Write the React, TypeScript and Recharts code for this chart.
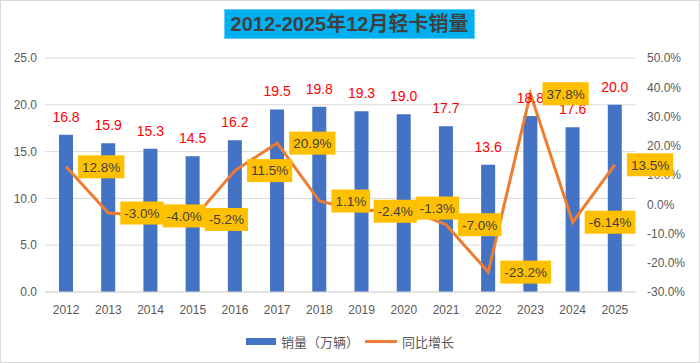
import React from 'react';
import { ComposedChart, Bar, Line, XAxis, YAxis, CartesianGrid, LabelList, Legend } from 'recharts';

const years = ['2012', '2013', '2014', '2015', '2016', '2017', '2018', '2019', '2020', '2021', '2022', '2023', '2024', '2025'];
const sales = [16.8, 15.9, 15.3, 14.5, 16.2, 19.5, 19.8, 19.3, 19.0, 17.7, 13.6, 18.8, 17.6, 20.0];
const growth = [12.8, -3.0, -4.0, -5.2, 11.5, 20.9, 1.1, -2.4, -1.3, -7.0, -23.2, 37.8, -6.14, 13.5];
const growthLabels = ['12.8%', '-3.0%', '-4.0%', '-5.2%', '11.5%', '20.9%', '1.1%', '-2.4%', '-1.3%', '-7.0%', '-23.2%', '37.8%', '-6.14%', '13.5%'];
const leftTicks = [0, 5, 10, 15, 20, 25];
const rightTicks = [-30, -20, -10, 0, 10, 20, 30, 40, 50];
const title = '2012-2025年12月轻卡销量';
const salesName = '销量（万辆）';
const growthName = '同比增长';

const data = years.map((y, i) => ({ year: y, sales: sales[i], growth: growth[i], growthLabel: growthLabels[i] }));

const FONT = '"Liberation Sans", Arial, "Noto Sans CJK SC", sans-serif';

let ctx: CanvasRenderingContext2D | null = null;
function textWidth(t: string, font: string): number {
  try {
    if (!ctx) ctx = document.createElement('canvas').getContext('2d');
    if (ctx) {
      ctx.font = font;
      return ctx.measureText(t).width;
    }
  } catch (e) {}
  return t.length * 7.5;
}

const GrowthLabel = (props: any) => {
  const { x, y, value } = props;
  if (x == null || y == null) return null;
  const text = String(value);
  const fs = 13.5;
  const w = textWidth(text, `${fs}px "Liberation Sans"`) + 8;
  const h = 23;
  const bx = Number(x) + 12;
  return (
    <g>
      <rect x={bx} y={Number(y) - h / 2} width={w} height={h} fill="#FFC000" />
      <text x={bx + w / 2} y={Number(y) + fs * 0.36} textAnchor="middle" fontSize={fs} fill="#404040" fontFamily={FONT}>
        {text}
      </text>
    </g>
  );
};

const LegendContent = () => (
  <div style={{ display: 'flex', justifyContent: 'center', alignItems: 'center', height: 20, fontSize: 13, color: '#595959', fontFamily: FONT }}>
    <span style={{ display: 'inline-block', width: 30, height: 7, background: '#4472C4', marginRight: 5 }} />
    <span style={{ marginRight: 6 }}>{salesName}</span>
    <span style={{ display: 'inline-block', width: 32, height: 3, background: '#ED7D31', marginRight: 5 }} />
    <span>{growthName}</span>
  </div>
);

export default function App() {
  return (
    <div style={{ position: 'absolute', left: 0, top: 0, width: 700, height: 363, background: '#fff', fontFamily: FONT }}>
      <ComposedChart width={700} height={363} data={data} margin={{ top: 58, right: 0, bottom: 12, left: 0 }}>
        <CartesianGrid yAxisId="left" vertical={false} stroke="#D9D9D9" />
        <XAxis
          dataKey="year"
          height={39}
          tickSize={0}
          tickMargin={13}
          axisLine={{ stroke: '#D9D9D9' }}
          tickLine={false}
          tick={{ fill: '#595959', fontSize: 12 }}
          interval={0}
        />
        <YAxis
          yAxisId="left"
          width={45}
          domain={[0, 25]}
          ticks={leftTicks}
          tickFormatter={(v: number) => v.toFixed(1)}
          axisLine={false}
          tickLine={false}
          tickSize={0}
          tickMargin={8}
          tick={{ fill: '#595959', fontSize: 12 }}
        />
        <YAxis
          yAxisId="right"
          orientation="right"
          width={64}
          domain={[-30, 50]}
          ticks={rightTicks}
          tickFormatter={(v: number) => `${v.toFixed(1)}%`}
          axisLine={false}
          tickLine={false}
          tickSize={0}
          tickMargin={11}
          tick={{ fill: '#595959', fontSize: 12 }}
        />
        <Legend verticalAlign="bottom" height={20} content={<LegendContent />} />
        <Bar yAxisId="left" dataKey="sales" name={salesName} fill="#4472C4" barSize={14} isAnimationActive={false}>
          <LabelList
            dataKey="sales"
            position="top"
            offset={13}
            fill="#FF0000"
            fontSize={14}
            formatter={(v: any) => Number(v).toFixed(1)}
          />
        </Bar>
        <Line
          yAxisId="right"
          dataKey="growth"
          name={growthName}
          stroke="#ED7D31"
          strokeWidth={3}
          dot={false}
          activeDot={false}
          type="linear"
          isAnimationActive={false}
        >
          <LabelList dataKey="growthLabel" content={<GrowthLabel />} />
        </Line>
      </ComposedChart>
      <div
        style={{
          position: 'absolute',
          left: 224,
          top: 9,
          width: 251,
          height: 30,
          boxSizing: 'border-box',
          background: '#00B0F0',
          border: '1px solid #66CFF6',
          color: '#404040',
          fontWeight: 'bold',
          fontSize: 20,
          lineHeight: '28px',
          textAlign: 'center',
          whiteSpace: 'nowrap',
        }}
      >
        {title}
      </div>
      <div
        style={{
          position: 'absolute',
          left: 0,
          top: 0,
          width: 700,
          height: 363,
          boxSizing: 'border-box',
          border: '1px solid #D9D9D9',
          pointerEvents: 'none',
        }}
      />
    </div>
  );
}
